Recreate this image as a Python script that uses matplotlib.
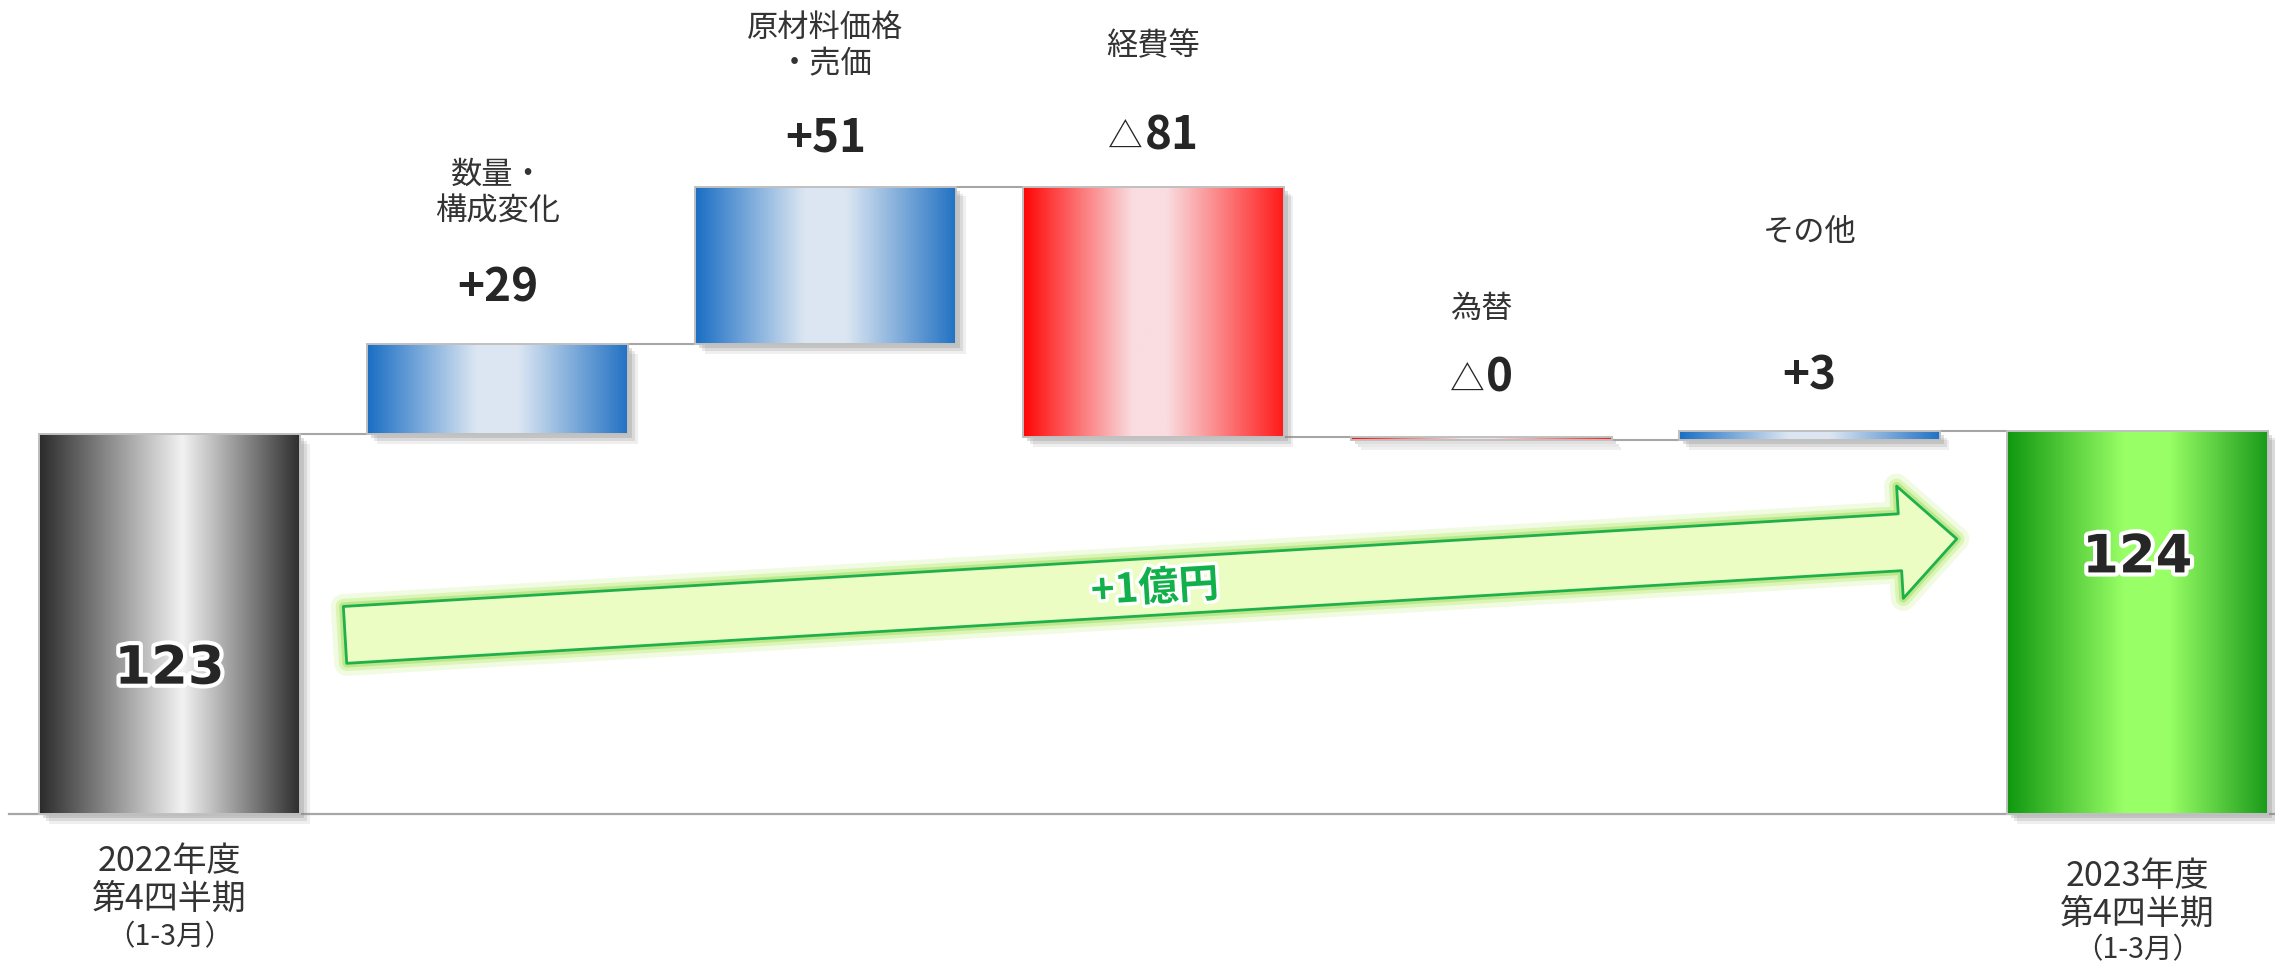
import numpy as np
import matplotlib.pyplot as plt
from matplotlib import patheffects as pe
from matplotlib import transforms
from matplotlib.patches import FancyArrowPatch, ArrowStyle

plt.rcParams['font.family'] = ['Noto Sans CJK JP', 'DejaVu Sans']

# data
categories = ["2022年度", "数量・\n構成変化", "原材料価格\n・売価", "経費等", "為替", "その他", "2023年度"]
start_value = 123
end_value = 124
deltas = [29, 51, -81, -1, 3]
delta_labels = ["+29", "+51", "△81", "△0", "+3"]
period_lines = ["第4四半期", "（1-3月）"]
total_label = "+1億円"

# layout (pixel rows in the 962 px tall figure)
W, H = 2275, 962
cat_y = [None, 193, 46, 46, 309, 232, None]
val_base = [None, 301, 151, 149, 392, 389, None]

fig = plt.figure(figsize=(W / 100, H / 100), dpi=100)
ax = fig.add_axes([0, 0, 1, 1])
ax.set_xlim(-0.517, 6.42)
ax.set_ylim(-47.6, 263.7)
ax.axis('off')
trans = transforms.blended_transform_factory(ax.transData, fig.transFigure)


def fy(px):
    return 1 - px / H


def grad(stops, colors, n=256):
    t = np.linspace(0, 1, n)
    rgb = np.array([[int(c[i:i + 2], 16) / 255 for i in (1, 3, 5)] for c in colors])
    img = np.empty((1, n, 3))
    for k in range(3):
        img[0, :, k] = np.interp(t, stops, rgb[:, k])
    return img


gray = grad([0, 0.55, 1], ['#2b2b2b', '#f2f2f2', '#2e2e2e'])
blue = grad([0, 0.42, 0.58, 1], ['#1a6ec4', '#dce6f2', '#dce6f2', '#2272c3'])
red = grad([0, 0.42, 0.55, 1], ['#ff0606', '#f9dde0', '#f9dde0', '#ff1a1a'])
green = grad([0, 0.45, 0.62, 1], ['#0f980f', '#99ff66', '#99ff66', '#1a9a1a'])

# waterfall geometry
levels = start_value + np.cumsum(deltas)
prev = np.concatenate([[start_value], levels[:-1]])
x = np.arange(len(categories))
bottoms = [0] + list(np.minimum(prev, levels)) + [0]
heights = [start_value] + list(np.abs(deltas)) + [end_value]
fills = [gray] + [blue if d > 0 else red for d in deltas] + [green]
width = 0.795

shadow = [pe.SimplePatchShadow(offset=(o, -o), shadow_rgbFace='#808080', alpha=a)
          for o, a in [(7, 0.12), (5, 0.18), (3, 0.25)]]
bars = ax.bar(x, heights, width, bottom=bottoms, color='white', linewidth=0,
              zorder=2, path_effects=shadow + [pe.Normal()])
for rect, img in zip(bars, fills):
    x0, y0 = rect.get_x(), rect.get_y()
    im = ax.imshow(img, extent=(x0, x0 + rect.get_width(), y0, y0 + rect.get_height()),
                   aspect='auto', zorder=3, interpolation='bilinear')
    im.set_clip_path(rect)
ax.bar(x, heights, width, bottom=bottoms, fill=False, edgecolor='#c0c0c0',
       linewidth=1.4, zorder=4)

# connectors
tops = [start_value] + list(levels)
for i, lv in enumerate(tops):
    ax.plot([x[i] + width / 2, x[i + 1] - width / 2], [lv, lv], color='#a6a6a6',
            lw=1.5, zorder=1)
ax.plot([-0.489, 6.42], [0, 0], color='#a6a6a6', lw=1.6, zorder=1)

# category and value labels
renderer = fig.canvas.get_renderer()
for i in range(1, 6):
    ax.text(x[i], fy(cat_y[i]), categories[i], transform=trans, ha='center', va='center',
            fontsize=22.5, color='#333333', linespacing=1.2)
    lab = delta_labels[i - 1]
    tri = lab.startswith("△")
    num = ax.text(x[i], fy(val_base[i]), lab[1:] if tri else lab, transform=trans,
                  ha='left', va='baseline', fontsize=33, fontweight='bold', color='#262626')
    w_num = num.get_window_extent(renderer).width
    if tri:
        t = ax.text(x[i], fy(val_base[i]), "△", transform=trans, ha='left', va='baseline',
                    fontsize=25, color='#262626')
        w_tri = t.get_window_extent(renderer).width
        total = w_tri + 2 + w_num
        t.set_transform(transforms.offset_copy(trans, fig=fig, x=-total / 2, y=0, units='dots'))
        num.set_transform(transforms.offset_copy(trans, fig=fig, x=-total / 2 + w_tri + 2,
                                                 y=0, units='dots'))
    else:
        num.set_transform(transforms.offset_copy(trans, fig=fig, x=-w_num / 2, y=0, units='dots'))

# totals inside the end bars
glow = [pe.withStroke(linewidth=6, foreground='white')]
ax.text(x[0], 47, str(start_value), ha='center', va='center', fontsize=38,
        fontweight='bold', family='DejaVu Sans', color='#262626', path_effects=glow, zorder=6)
ax.text(x[-1], 83, str(end_value), ha='center', va='center', fontsize=38,
        fontweight='bold', family='DejaVu Sans', color='#262626', path_effects=glow, zorder=6)

# period labels under the axis
for i, rows in [(0, (862, 899, 937)), (6, (877, 914, 950))]:
    ax.text(x[i], fy(rows[0]), categories[i], transform=trans, ha='center', va='center',
            fontsize=24.5, color='#333333')
    ax.text(x[i], fy(rows[1]), period_lines[0], transform=trans, ha='center', va='center',
            fontsize=24.5, color='#333333')
    ax.text(x[i], fy(rows[2]), period_lines[1], transform=trans, ha='center', va='center',
            fontsize=20.5, color='#333333')

# overall change arrow
tail = ((345 - 169.5) / 328, (815 - 636) / 3.09)
tip = ((1957 - 169.5) / 328, (815 - 540) / 3.09)
arrow = FancyArrowPatch(tail, tip, arrowstyle=ArrowStyle.Simple(head_length=41, head_width=81, tail_width=41),
                        mutation_scale=1, shrinkA=0, shrinkB=0, facecolor='#ebfdc3',
                        edgecolor='#1fb04c', linewidth=2, zorder=5,
                        path_effects=[pe.Stroke(linewidth=18, foreground='#c9f08f', alpha=0.25),
                                      pe.Stroke(linewidth=11, foreground='#bfee80', alpha=0.45),
                                      pe.Stroke(linewidth=6, foreground='#a8e070', alpha=0.6),
                                      pe.Normal()])
ax.add_patch(arrow)
ax.text((1155 - 169.5) / 328, (815 - 590) / 3.09, total_label, ha='center', va='center',
        rotation=3.5, rotation_mode='anchor', fontsize=29, fontweight='bold', color='#12b04a',
        path_effects=[pe.withStroke(linewidth=5, foreground='white')], zorder=6)

fig.savefig('out.png', dpi=100)
